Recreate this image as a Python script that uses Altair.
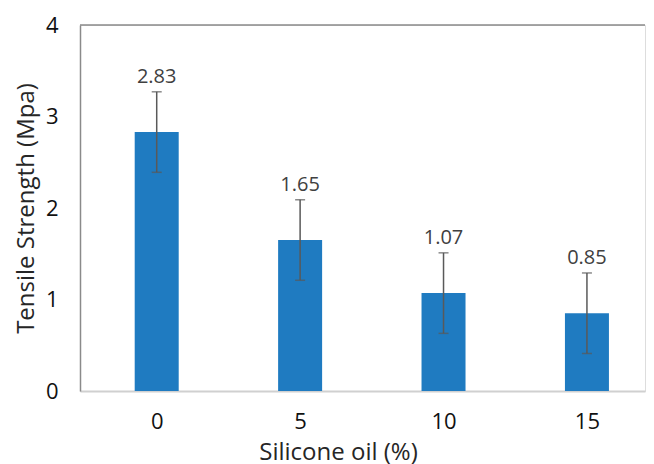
import altair as alt
import pandas as pd

oil = [0, 5, 10, 15]
strength = [2.83, 1.65, 1.07, 0.85]
err = [0.44, 0.44, 0.44, 0.44]
labels = ["2.83", "1.65", "1.07", "0.85"]

df = pd.DataFrame({"oil": oil, "strength": strength, "err": err, "label": labels})
df["lo"] = df["strength"] - df["err"]
df["hi"] = df["strength"] + df["err"]

FONT = "Open Sans"
W, H = 565, 366

xscale = alt.Scale(domain=[-2.5, 16.85], nice=False, zero=False)
yscale = alt.Scale(domain=[0, 4], nice=False)

xaxis = alt.Axis(values=oil, format="d", title="Silicone oil (%)", grid=False, ticks=False,
                 domainColor="#d0d0d0", domainWidth=2, labelFont=FONT, labelFontSize=22,
                 labelColor="#111111", labelPadding=20, titleFont=FONT, titleFontSize=24,
                 titleFontWeight="normal", titleColor="#262626", titlePadding=8,
                 titleX=258, titleAlign="center")
yaxis = alt.Axis(values=[0, 1, 2, 3, 4], format="d", title="Tensile Strength  (Mpa)", grid=False,
                 ticks=False, domainColor="#8a8a8a", domainWidth=1.5, labelFont=FONT,
                 labelFontSize=22, labelColor="#111111", labelPadding=22, titleFont=FONT,
                 titleFontSize=24, titleFontWeight="normal", titleColor="#262626",
                 titlePadding=7)

base = alt.Chart(df)

bars = base.mark_bar(size=44, color="#1f7bc1").encode(
    x=alt.X("oil:Q", scale=xscale, axis=xaxis),
    y=alt.Y("strength:Q", scale=yscale, axis=yaxis),
)

rule = base.mark_rule(color="#595959", strokeWidth=1.5).encode(
    x="oil:Q", y="lo:Q", y2="hi:Q"
)
cap_hi = base.mark_tick(color="#595959", size=10, thickness=1.5, orient="horizontal").encode(
    x="oil:Q", y="hi:Q"
)
cap_lo = base.mark_tick(color="#595959", size=10, thickness=1.5, orient="horizontal").encode(
    x="oil:Q", y="lo:Q"
)
text = base.mark_text(font=FONT, fontSize=20, color="#404040", baseline="bottom", dy=-5).encode(
    x="oil:Q", y="hi:Q", text="label:N"
)
top_border = alt.Chart(pd.DataFrame({"v": [4]})).mark_rule(color="#8a8a8a", strokeWidth=1.5).encode(
    y="v:Q", x=alt.value(0), x2=alt.value(W)
)

chart = alt.layer(bars, rule, cap_hi, cap_lo, text, top_border).properties(
    width=W, height=H,
    padding={"left": 6, "top": 6, "right": 0, "bottom": 0},
).configure_view(stroke=None).configure(background="white")

chart.save("out.html", embed_options={"renderer": "svg", "actions": False})
